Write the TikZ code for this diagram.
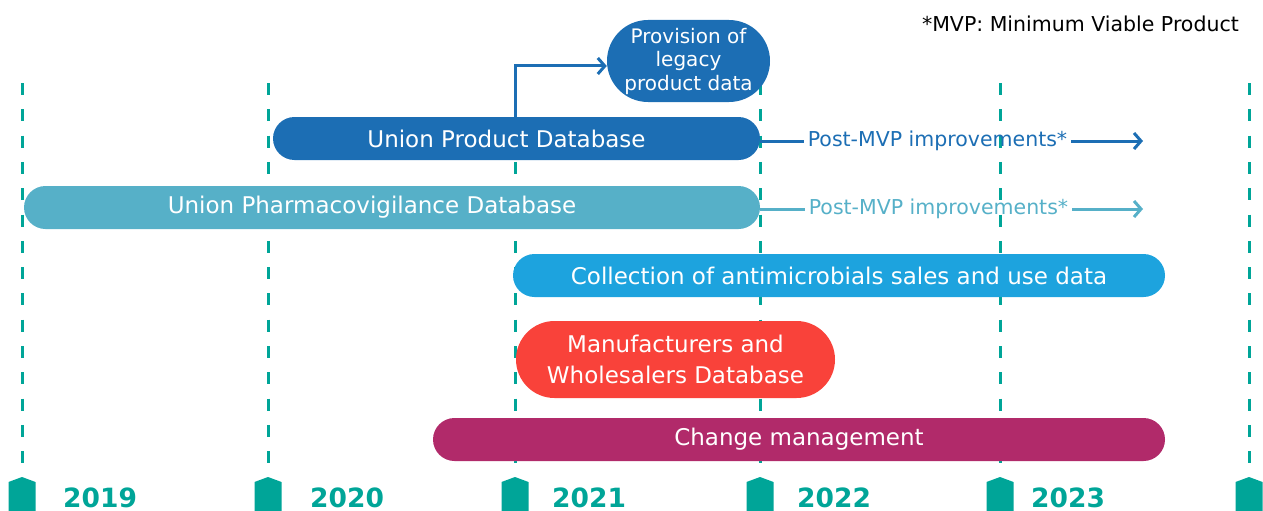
\documentclass[tikz,border=0pt]{standalone}
\usepackage{fontspec}
\setmainfont{DejaVu Sans}
\usetikzlibrary{shapes,arrows.meta,positioning}
\usepackage{xcolor}

\definecolor{emateal}{RGB}{0,165,152}
\definecolor{updblue}{RGB}{28,110,180}
\definecolor{pvblue}{RGB}{86,176,200}
\definecolor{amblue}{RGB}{29,163,222}
\definecolor{mwdred}{RGB}{249,66,58}
\definecolor{chgmag}{RGB}{177,42,106}

\tikzset{
    bar/.style={rectangle, rounded corners=21.5pt, minimum height=43pt, inner sep=0pt,
        text=white, font=\fontsize{23}{27}\selectfont},
    mvptext/.style={inner sep=4pt, font=\fontsize{20.5}{24}\selectfont},
    yeartick/.style={emateal, line width=3pt, dash pattern=on 12pt off 14.3pt},
    yearlabel/.style={anchor=base west, text=emateal, text depth=0pt, inner sep=0pt,
        font=\fontsize{26.5}{30}\selectfont\bfseries},
    flow/.style={line width=3pt, -{Straight Barb[length=7pt,width=16pt]}}
}

\begin{document}
\begin{tikzpicture}[x=1pt,y=-1pt]
\useasboundingbox (0,0) rectangle (1263,511);

% timeline
\foreach \x in {22,268,515,760,1000,1249}{
    \draw[yeartick] (\x,83) -- (\x,478);
    \fill[emateal] ({\x-13.5},511) -- ({\x-13.5},482) -- (\x,477) -- ({\x+13.5},482) -- ({\x+13.5},511) -- cycle;
}
\foreach \x/\yr in {63/2019,310/2020,552/2021,797/2022,1031/2023}
    \node[yearlabel] (y\yr) at (\x,507) {\yr};

\node[anchor=east, inner sep=0pt, mvptext] (note) at (1243,24) {*MVP: Minimum Viable Product};

% projects
\node[bar, fill=updblue, rounded corners=41pt, minimum width=163pt, minimum height=82pt,
    align=center, font=\fontsize{20}{23.5}\selectfont] (legacy) at (688.5,61)
    {Provision of\\legacy\\product data};
\node[bar, fill=updblue, minimum width=487pt] (upd) at (516.5,138.5) {\hspace*{-20pt}Union Product Database};
\node[bar, fill=pvblue, minimum width=736pt] (upv) at (392,207.5) {\hspace*{-40pt}Union Pharmacovigilance Database};
\node[bar, fill=amblue, minimum width=652pt] (amr) at (839,275.5) {Collection of antimicrobials sales and use data};
\node[bar, fill=mwdred, rounded corners=38.5pt, minimum width=319pt, minimum height=77pt,
    align=center, font=\fontsize{23}{31}\selectfont] (mwd) at (675.5,359.5)
    {Manufacturers and\\Wholesalers Database};
\node[bar, fill=chgmag, minimum width=732pt] (chg) at (799,439.5) {Change management};

% post-MVP
\node[mvptext, text=updblue] (updpost) at (937.5,141) {Post-MVP improvements*};
\coordinate (updend) at (1143,141);
\node[mvptext, text=pvblue] (upvpost) at (938.5,209) {Post-MVP improvements*};
\coordinate (upvend) at (1143,209);

\draw[updblue, line width=3pt] (upd.east |- updpost.west) -- (updpost.west);
\draw[updblue, flow] (updpost.east) -- (updend);
\draw[pvblue, line width=3pt] (upv.east |- upvpost.west) -- (upvpost.west);
\draw[pvblue, flow] (upvpost.east) -- (upvend);

\draw[updblue, flow] ([xshift=-1.5pt]upd.north) |- ([yshift=-5pt]legacy.west);
\end{tikzpicture}
\end{document}
